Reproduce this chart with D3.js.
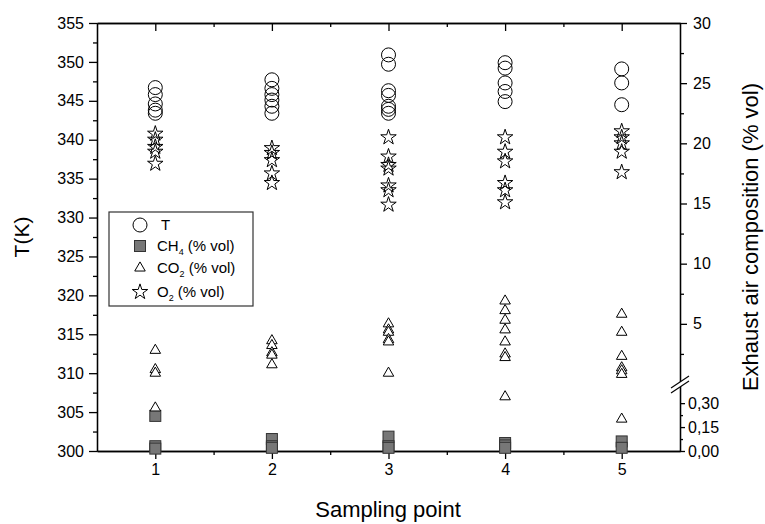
<!DOCTYPE html>
<html>
<head>
<meta charset="utf-8">
<script src="https://cdn.jsdelivr.net/npm/d3@7"></script>
<style>
body { margin: 0; background: #fff; }
svg { font-family: Arial, "Liberation Sans", sans-serif; }
.axis path, .axis line { stroke: #000; stroke-width: 1.3; }
.axis text { fill: #000; }
</style>
</head>
<body>
<svg id="chart"></svg>
<script>
var width = 765,
    height = 524

// sampling points on the x axis
var samplePoints = [1, 2, 3, 4, 5];

// temperature, K (left axis)
var tempK = [
    [346.7, 345.8, 344.6, 343.8, 343.4],
    [347.7, 346.6, 345.8, 345.1, 344.3, 343.4],
    [350.9, 349.7, 346.3, 345.7, 344.3, 343.9, 343.4],
    [349.9, 349.2, 347.3, 346.2, 344.9],
    [349.1, 347.3, 344.5]
];

// exhaust air composition, % vol (right axis)
var ch4 = [
    [0.22, 0.03, 0.015],
    [0.075, 0.03, 0.02],
    [0.09, 0.03, 0.02],
    [0.05, 0.035, 0.02],
    [0.06, 0.02]
];
var co2 = [
    [2.8, 1.2, 0.9, 0.27],
    [3.6, 3.2, 2.6, 2.4, 1.6],
    [5.0, 4.5, 4.3, 3.7, 3.5, 0.9],
    [6.9, 6.1, 5.3, 4.5, 3.5, 2.5, 2.2, 0.34],
    [5.8, 4.3, 2.3, 1.35, 1.1, 0.8, 0.2]
];
var o2 = [
    [20.8, 20.3, 19.7, 19.3, 18.3],
    [19.6, 19.2, 18.6, 17.5, 16.7],
    [20.5, 18.9, 18.2, 17.9, 16.5, 16.1, 14.9],
    [20.5, 19.3, 18.5, 16.7, 16.1, 15.1],
    [21.0, 20.5, 20.0, 19.3, 17.6]
];

var leftTicks = d3.range(300, 356, 5);
var rightTicksUpper = [5, 10, 15, 20, 25, 30];
var rightTicksLower = [0, 0.15, 0.30];

function flat(series) {
    var out = [];
    series.forEach(function(vals, i) {
        vals.forEach(function(v) { out.push({x: samplePoints[i], v: v}); });
    });
    return out;
}

var svg = d3.select("svg#chart")
    .attr("width", width)
    .attr("height", height);

var x = d3.scaleLinear().domain([0.5, 5.5]).range([97, 680]);
var yT = d3.scaleLinear().domain([300, 355]).range([451, 23]);
var yUp = d3.scaleLinear().domain([0, 30]).range([384, 23]);
var yLow = d3.scaleLinear().domain([0, 0.42]).range([451, 384]);
function yComp(v) { return v < 0.45 ? yLow(v) : yUp(v); }

var fmtComma = function(d) { return d3.format(".2f")(d).replace(".", ","); };

function drawAxis(tr, axis) {
    return svg.append("g").attr("class", "axis")
        .attr("transform", tr)
        .call(axis)
        .attr("font-size", 16)
        .attr("font-family", "Arial, 'Liberation Sans', sans-serif");
}

// left axis
drawAxis("translate(97,0)", d3.axisLeft(yT).tickValues(leftTicks)
    .tickSize(8).tickSizeOuter(0).tickPadding(5));
drawAxis("translate(97,0)", d3.axisLeft(yT).tickValues(d3.range(302.5, 355, 5))
    .tickSize(4).tickSizeOuter(0).tickFormat(""));

// bottom axis
drawAxis("translate(0,451)", d3.axisBottom(x).tickValues(samplePoints)
    .tickSize(8).tickSizeOuter(0).tickPadding(5).tickFormat(d3.format("d")));
drawAxis("translate(0,451)", d3.axisBottom(x).tickValues([1.5, 2.5, 3.5, 4.5])
    .tickSize(4).tickSizeOuter(0).tickFormat(""));

// top axis, ticks inward
drawAxis("translate(0,23)", d3.axisBottom(x).tickValues(samplePoints)
    .tickSize(8).tickSizeOuter(0).tickFormat(""));
drawAxis("translate(0,23)", d3.axisBottom(x).tickValues([1.5, 2.5, 3.5, 4.5])
    .tickSize(4).tickSizeOuter(0).tickFormat(""));

// right axis, broken
drawAxis("translate(680,0)", d3.axisRight(yUp).tickValues(rightTicksUpper)
    .tickSize(7).tickSizeOuter(0).tickPadding(6));
drawAxis("translate(680,0)", d3.axisRight(yUp).tickValues(d3.range(2.5, 30, 5))
    .tickSize(4).tickSizeOuter(0).tickFormat(""));
drawAxis("translate(680,0)", d3.axisRight(yLow).tickValues(rightTicksLower)
    .tickSize(5).tickSizeOuter(0).tickPadding(3).tickFormat(fmtComma));
drawAxis("translate(680,0)", d3.axisRight(yLow).tickValues([0.075, 0.225])
    .tickSize(3).tickSizeOuter(0).tickFormat(""));

// break marks
var bx = 680, by = 384;
svg.append("path")
    .attr("d", "M" + (bx - 9) + "," + (by + 4) + "L" + (bx + 9) + "," + (by - 8)
        + "L" + (bx + 9) + "," + (by - 3) + "L" + (bx - 9) + "," + (by + 9) + "Z")
    .attr("fill", "#fff");
[0, 5].forEach(function(o) {
    svg.append("line")
        .attr("x1", bx - 9).attr("y1", by + 4 + o)
        .attr("x2", bx + 9).attr("y2", by - 8 + o)
        .attr("stroke", "#000").attr("stroke-width", 1.2);
});

// markers
var starPath = d3.symbol().type(d3.symbolStar).size(74)();
var triPath = d3.symbol().type(d3.symbolTriangle).size(48)();

svg.append("g").selectAll("circle")
    .data(flat(tempK)).enter().append("circle")
    .attr("cx", function(d) { return x(d.x); })
    .attr("cy", function(d) { return yT(d.v); })
    .attr("r", 7)
    .attr("fill", "none").attr("stroke", "#000").attr("stroke-width", 1);

svg.append("g").selectAll("rect")
    .data(flat(ch4)).enter().append("rect")
    .attr("x", function(d) { return x(d.x) - 5.5; })
    .attr("y", function(d) { return yComp(d.v) - 5.5; })
    .attr("width", 11).attr("height", 11)
    .attr("fill", "#777").attr("stroke", "#333").attr("stroke-width", 1);

svg.append("g").selectAll("path")
    .data(flat(co2)).enter().append("path")
    .attr("d", triPath)
    .attr("transform", function(d) { return "translate(" + x(d.x) + "," + yComp(d.v) + ")"; })
    .attr("fill", "#fff").attr("stroke", "#000").attr("stroke-width", 1);

svg.append("g").selectAll("path")
    .data(flat(o2)).enter().append("path")
    .attr("d", starPath)
    .attr("transform", function(d) { return "translate(" + x(d.x) + "," + yComp(d.v) + ")"; })
    .attr("fill", "none").attr("stroke", "#000").attr("stroke-width", 1);

// axis titles
svg.append("text")
    .attr("transform", "translate(29,237) rotate(-90)")
    .attr("text-anchor", "middle").attr("font-size", 21)
    .text("T(K)");
svg.append("text")
    .attr("transform", "translate(758,237) rotate(-90)")
    .attr("text-anchor", "middle").attr("font-size", 22)
    .text("Exhaust air composition (% vol)");
svg.append("text")
    .attr("x", 388).attr("y", 517)
    .attr("text-anchor", "middle").attr("font-size", 22)
    .text("Sampling point");

// legend
var legend = svg.append("g");
legend.append("rect")
    .attr("x", 109).attr("y", 212).attr("width", 144).attr("height", 94)
    .attr("fill", "#fff").attr("stroke", "#333").attr("stroke-width", 1.2);

var legItems = [
    {name: "T", sub: "", rest: ""},
    {name: "CH", sub: "4", rest: " (% vol)"},
    {name: "CO", sub: "2", rest: " (% vol)"},
    {name: "O", sub: "2", rest: " (% vol)"}
];
var legY = [225, 246, 268, 292];

legend.append("circle").attr("cx", 140).attr("cy", legY[0]).attr("r", 7)
    .attr("fill", "none").attr("stroke", "#000");
legend.append("rect").attr("x", 134.5).attr("y", legY[1] - 5.5).attr("width", 11).attr("height", 11)
    .attr("fill", "#777").attr("stroke", "#333");
legend.append("path").attr("d", triPath).attr("transform", "translate(140," + legY[2] + ")")
    .attr("fill", "#fff").attr("stroke", "#000");
legend.append("path").attr("d", starPath).attr("transform", "translate(140," + legY[3] + ")")
    .attr("fill", "none").attr("stroke", "#000");

legItems.forEach(function(it, i) {
    var t = legend.append("text")
        .attr("x", i == 0 ? 161 : 157).attr("y", legY[i] + 5)
        .attr("font-size", 15);
    t.append("tspan").text(it.name);
    if (it.sub) {
        t.append("tspan").attr("font-size", 9).attr("dy", 4).text(it.sub);
        t.append("tspan").attr("dy", -4).text(it.rest);
    }
});
</script>
</body>
</html>
